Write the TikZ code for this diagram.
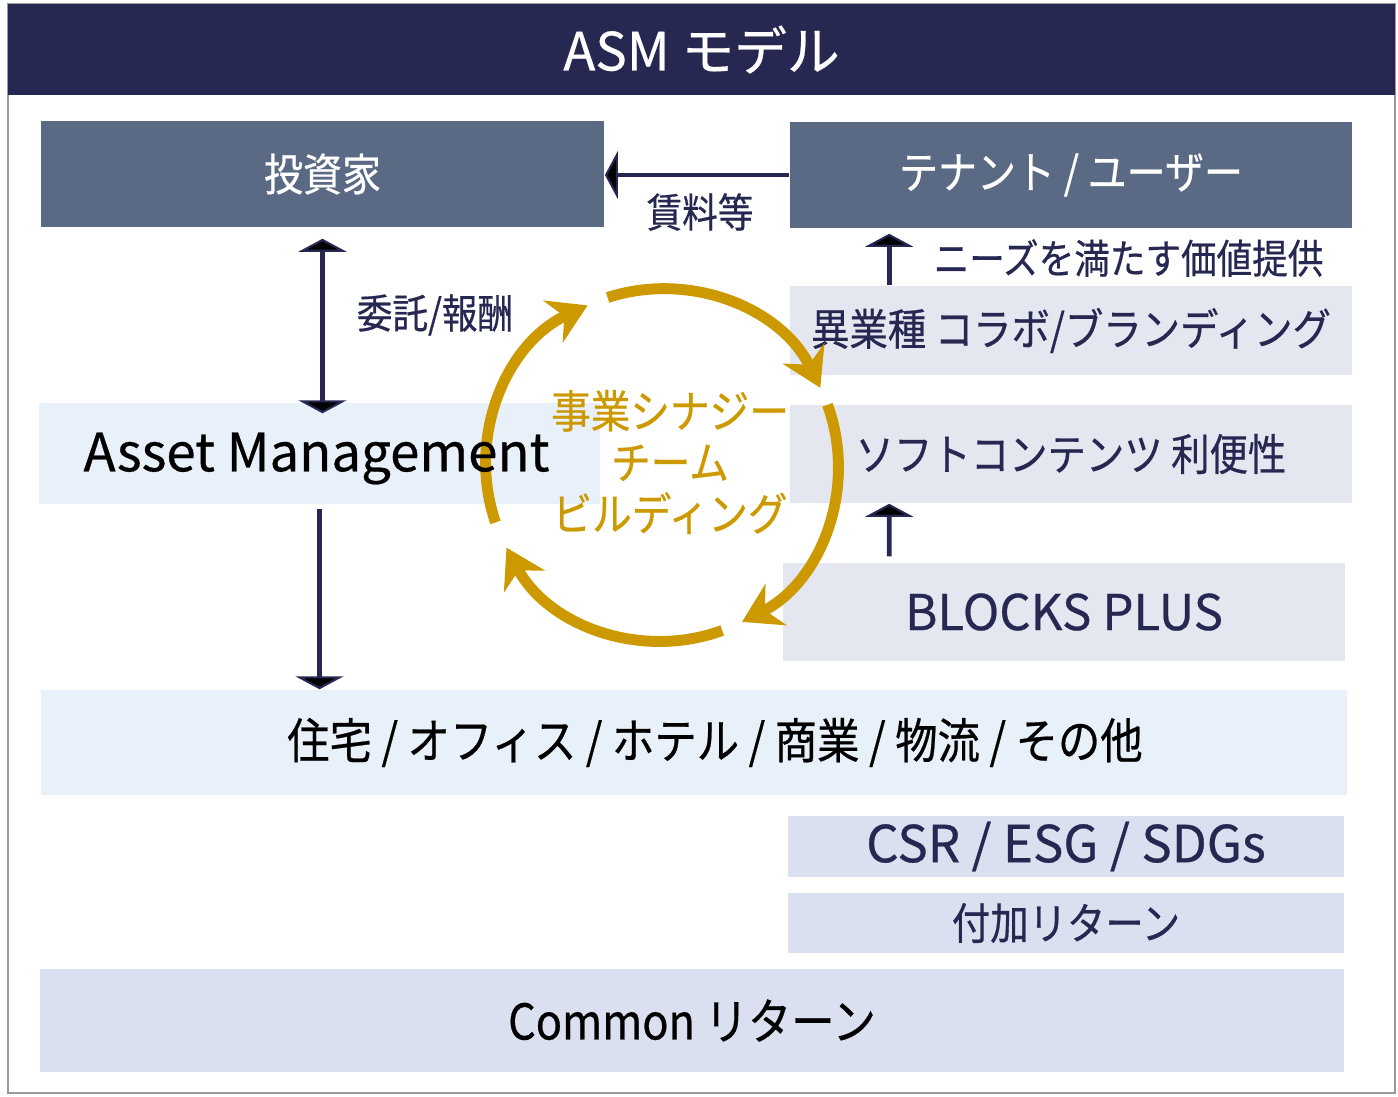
\documentclass[tikz,border=0pt]{standalone}
\usepackage{fontspec}
\setmainfont[FakeBold=0.5]{Noto Sans CJK JP}
\newfontfamily\jpfont[FakeStretch=0.88, FakeBold=0.5]{Noto Sans CJK JP}
\usetikzlibrary{arrows.meta,calc}

\definecolor{asmnavy}{RGB}{38,40,82}
\definecolor{asmslate}{RGB}{90,106,132}
\definecolor{asmgray}{RGB}{228,231,239}
\definecolor{asmblue}{RGB}{232,240,249}
\definecolor{asmlav}{RGB}{218,224,239}
\definecolor{asmgold}{RGB}{204,153,0}

\tikzset{
	navytip/.tip={Triangle[length=0.13cm,width=0.48cm,fill=black,line width=0.6pt]},
	darkbox/.style={fill=asmslate, text=white, inner sep=0pt, font=\jpfont\fontsize{12.6}{14}\selectfont},
	lightbox/.style={fill=#1, text=asmnavy, inner sep=0pt, font=\jpfont\fontsize{12.4}{14}\selectfont},
	navyarr/.style={draw=asmnavy, line width=1.4pt},
	goldarr/.style={draw=asmgold, line width=3.1pt, -{Stealth[length=0.38cm,width=0.46cm]}},
	smalltxt/.style={text=asmnavy, inner sep=0pt, font=\jpfont\fontsize{11.5}{13}\selectfont},
}

\begin{document}
\begin{tikzpicture}[x=0.01cm, y=-0.01cm]
	\useasboundingbox (0,0) rectangle (1398,1096);
	% frame + title
	\draw[gray!80, line width=0.8pt] (8,4) rectangle (1395,1093);
	\node[fill=asmnavy, minimum width=13.87cm, minimum height=0.91cm, inner sep=0pt, text=white, font=\fontsize{15}{17}\selectfont] (title) at (701.5,49.5) {ASM モデル};
	
	% top row
	\node[darkbox, minimum width=5.63cm, minimum height=1.06cm] (inv) at (322.5,174) {投資家};
	\node[darkbox, minimum width=5.62cm, minimum height=1.06cm] (ten) at (1071,175) {テナント / ユーザー};
	
	% right column
	\node[lightbox=asmgray, minimum width=5.62cm, minimum height=0.89cm] (collab) at (1071,330.5) {異業種 コラボ/ブランディング};
	\node[lightbox=asmgray, minimum width=5.62cm, minimum height=0.98cm] (soft) at (1071,454) {ソフトコンテンツ 利便性};
	\node[lightbox=asmgray, minimum width=5.62cm, minimum height=0.98cm, font=\fontsize{14}{16}\selectfont] (blocks) at (1064,612) {BLOCKS PLUS};
	
	% asset management (text comes after the circle)
	\node[fill=asmblue, minimum width=5.61cm, minimum height=1.01cm, inner sep=0pt] (am) at (319.5,453.5) {};
	
	% bottom rows
	\node[lightbox=asmblue, text=black, minimum width=13.06cm, minimum height=1.05cm, font=\jpfont\fontsize{13.7}{15}\selectfont] (use) at (694,742.5) {\hspace*{0.42cm}住宅 / オフィス / ホテル / 商業 / 物流 / その他};
	\node[lightbox=asmlav, minimum width=5.56cm, minimum height=0.61cm, font=\fontsize{14.5}{16}\selectfont] (csr) at (1066,846.5) {CSR / ESG / SDGs};
	\node[lightbox=asmlav, minimum width=5.56cm, minimum height=0.60cm] (addret) at (1066,923) {付加リターン};
	\node[lightbox=asmlav, text=black, minimum width=13.04cm, minimum height=1.03cm, font=\jpfont\fontsize{14}{16}\selectfont] (common) at (692,1020.5) {Common リターン};
	
	% flows
	\draw[navyarr, -navytip] (ten.west) -- (ten.west -| inv.east);
	\node[smalltxt] (rent) at (700,212) {賃料等};
	
	\draw[navyarr, navytip-navytip] ([yshift=-0.11cm]inv.south) -- ([yshift=-0.11cm]inv.south |- am.north);
	\node[smalltxt] (fee) at (435,315) {委託/報酬};
	
	\draw[navyarr, -navytip] ([yshift=-0.04cm]am.south) -- (am.south |- use.north);
	
	\draw[navyarr, -navytip] ([xshift=1cm]collab.north west) -- ([xshift=1cm, yshift=-0.05cm]ten.south west);
	\node[smalltxt, anchor=west] (need) at (933,258) {ニーズを満たす価値提供};
	
	\draw[navyarr, -navytip] ([xshift=1.07cm, yshift=0.06cm]blocks.north west) -- ([xshift=1cm]soft.south west);
	
	% synergy circle
	\coordinate (syn) at (662,465);
	\draw[goldarr] ($(syn)+(108:1.76cm)$) arc[start angle=108, end angle=26, radius=1.76cm];
	\draw[goldarr] ($(syn)+(20:1.76cm)$) arc[start angle=20, end angle=-63, radius=1.76cm];
	\draw[goldarr] ($(syn)+(-70:1.76cm)$) arc[start angle=-70, end angle=-152, radius=1.76cm];
	\draw[goldarr] ($(syn)+(199:1.76cm)$) arc[start angle=199, end angle=115, radius=1.76cm];
	\node[text=asmgold, align=center, inner sep=0pt, font=\jpfont\fontsize{12.8}{14.6}\selectfont] (team) at (670,462) {事業シナジー\\チーム\\ビルディング};
	
	\node[text=black, inner sep=0pt, font=\fontsize{15}{17}\selectfont] (amtxt) at ([xshift=-0.03cm, yshift=-0.05cm]am.center) {Asset Management};
\end{tikzpicture}
\end{document}
